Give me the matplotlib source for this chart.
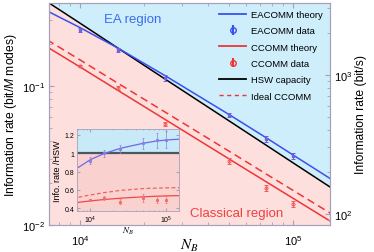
import numpy as np
import matplotlib
matplotlib.use('Agg')
from matplotlib import pyplot as plt
from matplotlib.lines import Line2D

plt.rcParams['font.family'] = ['Liberation Sans', 'DejaVu Sans']
plt.rcParams['mathtext.fontset'] = 'custom'
plt.rcParams['mathtext.rm'] = 'Liberation Sans'
plt.rcParams['mathtext.it'] = 'Liberation Sans:italic'

# theory curves
N_line = np.array([7e3, 1e4, 1.5e4, 2.5e4, 5e4, 7.5e4, 1e5, 1.5e5])
hsw = np.array([0.404, 0.283, 0.188, 0.1125, 0.0562, 0.0374, 0.0280, 0.01866])
ea_theory = np.array([0.347, 0.263, 0.188, 0.119, 0.0624, 0.0423, 0.0319, 0.0215])
cc_theory = np.array([0.191, 0.137, 0.0933, 0.0576, 0.0299, 0.0204, 0.01556, 0.01062])
cc_ideal = np.array([0.215, 0.154, 0.105, 0.0651, 0.0340, 0.0232, 0.01774, 0.01213])

# measured points
N_data = np.array([1e4, 1.5e4, 2.5e4, 5e4, 7.5e4, 1e5])
ea_data = np.array([0.253, 0.182, 0.114, 0.0618, 0.0416, 0.0313])
ea_err = np.array([0.010, 0.007, 0.005, 0.0025, 0.0018, 0.0014])
cc_data = np.array([0.139, 0.0968, 0.0533, 0.0288, 0.01845, 0.01416])
cc_err = np.array([0.003, 0.003, 0.002, 0.0014, 0.0010, 0.0008])

# inset: ratio to HSW
ins_ea = np.array([0.847, 0.93, 0.995, 1.055, 1.11, 1.135, 1.145, 1.155])
ins_cc = np.array([0.465, 0.48, 0.495, 0.51, 0.525, 0.532, 0.535, 0.538])
ins_ideal = np.array([0.52, 0.545, 0.57, 0.595, 0.615, 0.62, 0.623, 0.625])
ins_ea_data = np.array([0.92, 1.0, 1.047, 1.11, 1.14, 1.15])
ins_ea_err = np.array([0.04, 0.04, 0.04, 0.06, 0.08, 0.09])
ins_cc_data = np.array([0.49, 0.51, 0.47, 0.51, 0.495, 0.495])
ins_cc_err = np.array([0.01, 0.02, 0.027, 0.044, 0.036, 0.036])

k_rate = 8300  # bit/s per bit/M modes

blue = '#3a50f0'
red = '#f03434'
blue_fill = '#cdeefa'
pink_fill = '#fde0de'
frame = '#a8a0b8'

fig = plt.figure(figsize=(3.74, 2.53), dpi=100)
ax = fig.add_axes([0.131, 0.107, 0.751, 0.877])
ax.set_xscale('log')
ax.set_yscale('log')

ax.fill_between(N_line, hsw, 10, color=blue_fill, lw=0)
ax.fill_between(N_line, 1e-4, hsw, color=pink_fill, lw=0)
ax.plot(N_line, hsw, color='k', lw=1.1)
ax.plot(N_line, ea_theory, color=blue, lw=1.1)
ax.plot(N_line, cc_theory, color=red, lw=1.1)
ax.plot(N_line, cc_ideal, color=red, lw=1.1, ls=(0, (5, 3)))
ax.errorbar(N_data, ea_data, yerr=ea_err, fmt='s', ms=2, color='#7060d8',
            mfc='#8a78e0', elinewidth=0.7, capsize=1.5, capthick=0.7)
ax.errorbar(N_data, cc_data, yerr=cc_err, fmt='o', ms=2.2, color='#f05a5a',
            mfc='none', mew=0.7, elinewidth=0.7, capsize=1.5, capthick=0.7)

ax.set_xlim(7.15e3, 1.49e5)
ax.set_ylim(0.01, 0.395)

ax.text(1.77e4, 0.305, 'EA region', color='#3a6ef0', fontsize=9.5, ha='center', va='center')
ax.text(5.45e4, 0.0121, 'Classical region', color='#f04040', fontsize=9.5, ha='center', va='center')

ax.tick_params(which='both', direction='in', top=True, right=False, labelsize=8,
               colors='k', pad=3)
ax.tick_params(axis='x', which='both', pad=6)
ax.tick_params(which='major', length=3.5, color=frame)
ax.tick_params(which='minor', length=2, color=frame)
for s in ax.spines.values():
    s.set_color(frame)
    s.set_linewidth(0.8)

ax.set_xlabel('$N_B$', fontsize=11, math_fontfamily='stix')
ax.xaxis.set_label_coords(0.5, -0.055)
ax.set_ylabel('Information rate (bit/$M$ modes)', fontsize=8.7, labelpad=2)

ax2 = ax.twinx()
ax2.set_yscale('log')
ax2.set_ylim(0.01 * k_rate, 0.395 * k_rate)
ax2.tick_params(which='both', direction='in', labelsize=8, pad=3)
ax2.tick_params(which='major', length=3.5, color=frame)
ax2.tick_params(which='minor', length=2, color=frame)
for s in ax2.spines.values():
    s.set_color(frame)
    s.set_linewidth(0.8)
ax2.set_ylabel('Information rate (bit/s)', fontsize=8.7, labelpad=2)

handles = [
    Line2D([], [], color=blue, lw=1.3),
    ax.errorbar([], [], yerr=[], fmt='o', ms=4, color=blue, mfc='none', capsize=2),
    Line2D([], [], color=red, lw=1.3),
    ax.errorbar([], [], yerr=[], fmt='o', ms=4, color=red, mfc='none', capsize=2),
    Line2D([], [], color='k', lw=1.3),
    Line2D([], [], color=red, lw=1.0, ls=(0, (3, 2.5))),
]
labels = ['EACOMM theory', 'EACOMM data', 'CCOMM theory', 'CCOMM data',
          'HSW capacity', 'Ideal CCOMM']
ax2.legend(handles, labels, loc='upper right', bbox_to_anchor=(0.995, 0.995),
           frameon=False, fontsize=6.8, handlelength=2.9, handletextpad=0.5,
           labelspacing=0.78, borderaxespad=0.2)

# inset
axi = fig.add_axes([0.206, 0.162, 0.273, 0.324])
axi.set_xscale('log')
axi.axhspan(1, 2, color='#c8eaf8', lw=0)
axi.axhspan(0, 1, color='#f9d2d0', lw=0)
axi.axhline(1, color='#4c5860', lw=1.6)
axi.plot(N_line, ins_ea, color='#6a6ae8', lw=0.9)
axi.plot(N_line, ins_cc, color='#f04848', lw=0.9)
axi.plot(N_line, ins_ideal, color='#f06060', lw=0.9, ls=(0, (3, 2)))
axi.errorbar(N_data, ins_ea_data, yerr=ins_ea_err, fmt='s', ms=1.2, color='#8a80e0',
             elinewidth=0.5, capsize=1, capthick=0.5)
axi.errorbar(N_data, ins_cc_data, yerr=ins_cc_err, fmt='s', ms=1.2, color='#f07070',
             elinewidth=0.5, capsize=1, capthick=0.5)
axi.set_xlim(6.7e3, 1.48e5)
axi.set_ylim(0.37, 1.265)
axi.set_yticks([0.4, 0.6, 0.8, 1, 1.2])
axi.set_yticklabels(['0.4', '0.6', '0.8', '1', '1.2'])
axi.tick_params(which='both', direction='in', labelsize=5, pad=2, top=True, right=True)
axi.tick_params(which='major', length=2, color=frame)
axi.tick_params(which='minor', length=1, color=frame)
for s in axi.spines.values():
    s.set_color(frame)
    s.set_linewidth(0.6)
axi.set_xlabel('$N_B$', fontsize=6.5, math_fontfamily='stix', labelpad=0)
axi.set_ylabel('Info. rate /HSW', fontsize=6.5, labelpad=2)

fig.savefig('out.png', dpi=100)
